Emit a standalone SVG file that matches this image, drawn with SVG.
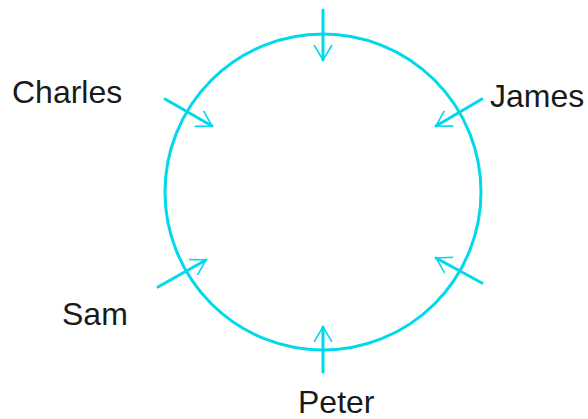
<svg xmlns="http://www.w3.org/2000/svg" width="588" height="419" viewBox="0 0 588 419">
<style>
.lbl{font-family:"Liberation Sans",Arial,sans-serif;font-size:32px;fill:#1a1a1a}
.conn{stroke:#00D9EA;stroke-width:3;fill:none;stroke-linecap:round}
.ring{stroke:#00D9EA;stroke-width:3;fill:none}
</style>
<defs>
<marker id="ah" viewBox="0 0 16 20" refX="15" refY="10" markerWidth="16" markerHeight="20" markerUnits="userSpaceOnUse" orient="auto">
<path d="M0,1 L15,10 L0,19" fill="none" stroke="#00D9EA" stroke-width="1.6"/>
</marker>
</defs>
<rect width="588" height="419" fill="#ffffff"/>
<g id="table"><circle class="ring" cx="323" cy="192" r="158"/></g>
<g id="charles"><text class="lbl" x="12" y="103">Charles</text></g>
<g id="james"><text class="lbl" x="490" y="107">James</text></g>
<g id="sam"><text class="lbl" x="62" y="325">Sam</text></g>
<g id="peter"><text class="lbl" x="298" y="413">Peter</text></g>
<g id="connectors">
<line class="conn" x1="323" y1="10" x2="323" y2="60" marker-end="url(#ah)"/>
<line class="conn" x1="165" y1="99" x2="212" y2="126" marker-end="url(#ah)"/>
<line class="conn" x1="482" y1="99" x2="436" y2="126" marker-end="url(#ah)"/>
<line class="conn" x1="158" y1="287" x2="206" y2="260" marker-end="url(#ah)"/>
<line class="conn" x1="482" y1="283" x2="436" y2="258" marker-end="url(#ah)"/>
<line class="conn" x1="323" y1="372" x2="323" y2="327" marker-end="url(#ah)"/>
</g>
</svg>
